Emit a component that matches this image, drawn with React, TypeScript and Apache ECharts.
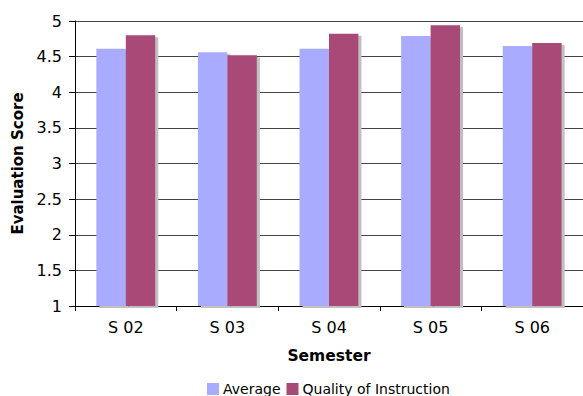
import React, { useEffect, useRef } from "react";
import * as echarts from "echarts";

const categories = ["S 02", "S 03", "S 04", "S 05", "S 06"];
const averageValues = [4.61, 4.56, 4.61, 4.79, 4.65];
const qualityValues = [4.8, 4.52, 4.82, 4.94, 4.69];
const seriesNames = ["Average", "Quality of Instruction"];

const FONT = "DejaVu Sans, Verdana, sans-serif";

export default function App() {
  const ref = useRef<HTMLDivElement>(null);
  useEffect(() => {
    if (!ref.current) return;
    const chart = echarts.init(ref.current, undefined, { renderer: "svg" });
    const shadow = {
      shadowColor: "#c0c0c0",
      shadowOffsetX: 3,
      shadowOffsetY: 2,
      shadowBlur: 0,
    };
    chart.setOption({
      animation: false,
      backgroundColor: "#ffffff",
      grid: { left: 75, top: 21, right: 0, bottom: 90 },
      legend: {
        data: seriesNames,
        left: 207,
        top: 382,
        padding: 0,
        itemWidth: 12,
        itemHeight: 12,
        itemGap: 6,
        icon: "rect",
        textStyle: { fontFamily: FONT, fontSize: 14, color: "#000", padding: [0, 0, 0, -1] },
      },
      xAxis: {
        type: "category",
        data: categories,
        name: "Semester",
        nameLocation: "middle",
        nameGap: 42,
        nameTextStyle: { fontFamily: FONT, fontSize: 15.5, fontWeight: "bold", color: "#000" },
        axisLine: { lineStyle: { color: "#000", width: 1 } },
        axisTick: { show: true, length: 5, lineStyle: { color: "#000" } },
        axisLabel: { fontFamily: FONT, fontSize: 16, color: "#000", margin: 13 },
      },
      yAxis: {
        type: "value",
        min: 1,
        max: 5,
        interval: 0.5,
        name: "Evaluation Score",
        nameLocation: "middle",
        nameGap: 45,
        nameTextStyle: { fontFamily: FONT, fontSize: 15, fontWeight: "bold", color: "#000" },
        axisLine: { show: true, lineStyle: { color: "#000", width: 1 } },
        axisTick: { show: true, length: 6, lineStyle: { color: "#000" } },
        axisLabel: { fontFamily: FONT, fontSize: 16, color: "#000", margin: 13 },
        splitLine: { show: true, lineStyle: { color: "#444", width: 1 } },
      },
      series: [
        {
          name: seriesNames[0],
          type: "bar",
          data: averageValues,
          barWidth: "29%",
          barGap: "0%",
          itemStyle: { color: "#a9abff", ...shadow },
        },
        {
          name: seriesNames[1],
          type: "bar",
          data: qualityValues,
          barWidth: "29%",
          barGap: "0%",
          itemStyle: { color: "#a84a78", ...shadow },
        },
      ],
    });
    return () => chart.dispose();
  }, []);
  return (
    <div
      ref={ref}
      style={{ position: "fixed", left: 0, top: 0, width: 583, height: 396 }}
    />
  );
}
